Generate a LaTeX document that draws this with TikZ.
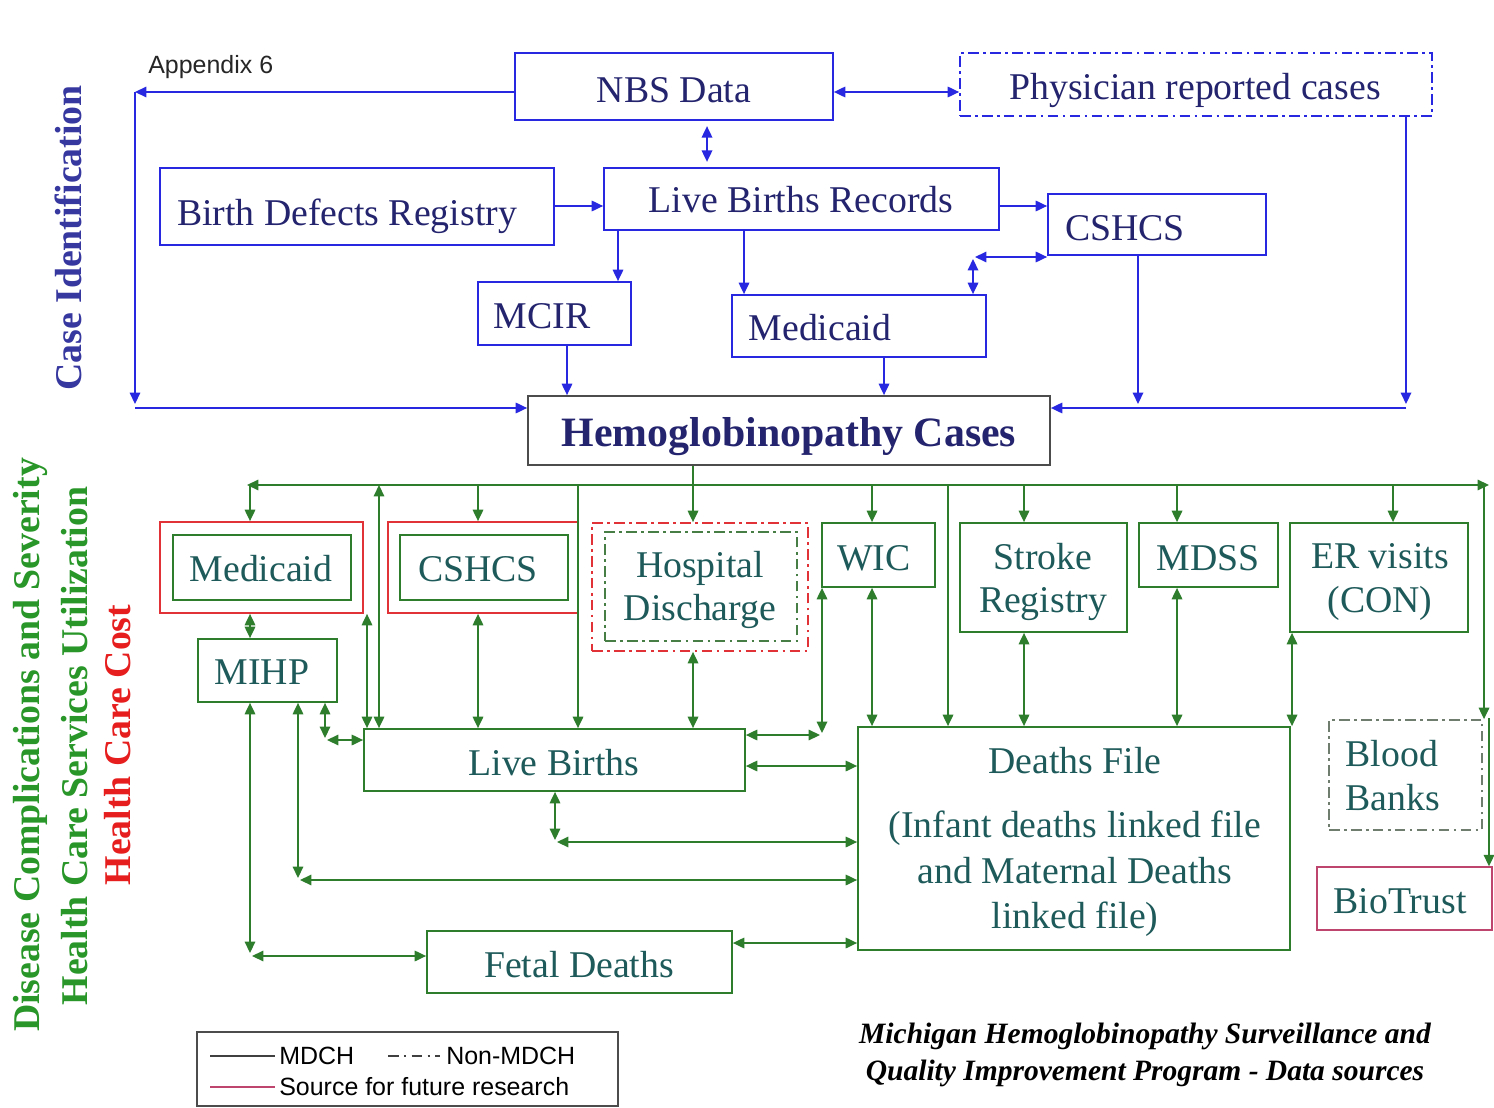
\documentclass[tikz,border=0pt]{standalone}
\usepackage{fontspec}
\setmainfont{Liberation Serif}
\newfontfamily\arialf{Liberation Sans}
\usetikzlibrary{arrows.meta,fit,calc}
\definecolor{bl}{RGB}{40,40,225}
\definecolor{bltext}{RGB}{35,35,110}
\definecolor{gr}{RGB}{45,125,45}
\definecolor{grtext}{RGB}{30,90,90}
\definecolor{rd}{RGB}{225,50,55}
\definecolor{pk}{RGB}{190,70,110}
\definecolor{sideb}{RGB}{55,55,160}
\definecolor{sideg}{RGB}{40,150,40}
\definecolor{sider}{RGB}{230,30,30}
\definecolor{bbgray}{RGB}{110,125,110}
\begin{document}
\begin{tikzpicture}[x=0.02cm,y=-0.02cm,
  box/.style={draw, inner sep=0pt, line width=1pt},
  bbox/.style={box, draw=bl},
  gbox/.style={box, draw=gr},
  rbox/.style={box, draw=rd},
  dd/.style={dash pattern=on 6pt off 2.5pt on 1.5pt off 2.5pt},
  txt/.style={font=\fontsize{21.5}{25}\selectfont, inner sep=0pt, align=center},
  btxt/.style={txt, text=bltext, anchor=base},
  gtxt/.style={txt, text=grtext, anchor=base},
  gtxtc/.style={txt, text=grtext},
  arr/.style={-{Triangle[length=6.5pt,width=6pt]}},
  darr/.style={{Triangle[length=6.5pt,width=6pt]}-{Triangle[length=6.5pt,width=6pt]}},
  bline/.style={draw=bl, line width=0.9pt},
  gline/.style={draw=gr, line width=0.9pt},
  side/.style={rotate=90, font=\fontsize{21.5}{25}\selectfont\bfseries, inner sep=0pt},
  legt/.style={font=\arialf\fontsize{14.2}{16}\selectfont, inner sep=0pt, anchor=base west},
]
\useasboundingbox[fill=white] (0,0) rectangle (1494,1108);

% ---------------- top (blue) ----------------
\node[font=\arialf\fontsize{14.2}{16}\selectfont, inner sep=0pt, anchor=base west, text=black!85] (app) at (148,74) {Appendix 6};

\node[bbox, fit={(515,53) (833,120)}] (nbs) {};
\node[btxt] (nbst) at (674,103) {NBS Data};
\node[bbox, dd, fit={(960,53) (1432,116)}] (phys) {};
\node[btxt] (physt) at (1195,100) {Physician reported cases};
\node[bbox, fit={(160,168) (554,245)}] (bdr) {};
\node[btxt] (bdrt) at (347,226) {Birth Defects Registry};
\node[bbox, fit={(604,168) (999,230)}] (lbr) {};
\node[btxt] (lbrt) at (801,213) {Live Births Records};
\node[bbox, fit={(1048,194) (1266,255)}] (cshb) {};
\node[btxt] (cshbt) at (1125,240) {CSHCS};
\node[bbox, fit={(478,282) (631,345)}] (mcir) {};
\node[btxt] (mcirt) at (542,328) {MCIR};
\node[bbox, fit={(732,295) (986,357)}] (medb) {};
\node[btxt] (medbt) at (820,340) {Medicaid};
\node[box, draw=black!70, fit={(528,396) (1050,465)}] (hemo) {};
\node[txt, anchor=base, text=bltext, font=\fontsize{23.8}{28}\selectfont\bfseries] (hemot) at (789,446) {Hemoglobinopathy Cases};

\coordinate (tl) at (135,92);
\coordinate (tld) at (135,404);
\coordinate (bll) at (135,408);
\draw[bline, arr] (nbs.west |- tl) -- (tl);
\draw[bline, arr] (tl) -- (tld);
\draw[bline, arr] (bll) -- (hemo.west |- bll);
\draw[bline, darr] (nbs.east |- tl) -- (phys.west |- tl);
\draw[bline, darr, shorten <=3pt, shorten >=3pt] (707,0 |- nbs.south) -- (707,0 |- lbr.north);
\draw[bline, arr] (bdr.east |- 0,206) -- (lbr.west |- 0,206);
\draw[bline, arr] (lbr.east |- 0,206) -- (cshb.west |- 0,206);
\draw[bline, arr] (618,0 |- lbr.south) -- (618,0 |- mcir.north);
\draw[bline, arr] (744,0 |- lbr.south) -- (744,0 |- medb.north);
\coordinate (mc) at (973,259);
\draw[bline, darr] (mc |- medb.north) -- (mc);
\draw[bline, darr] (975,257) -- (cshb.west |- 0,257);
\draw[bline, arr] (567,0 |- mcir.south) -- (567,0 |- hemo.north);
\draw[bline, arr] (884,0 |- medb.south) -- (884,0 |- hemo.north);
\coordinate (crd) at (1138,404);
\draw[bline, arr] (crd |- cshb.south) -- (crd);
\coordinate (prd) at (1406,404);
\coordinate (prl) at (1406,408);
\draw[bline, arr] (prd |- phys.south) -- (prd);
\draw[bline, arr] (prl) -- (hemo.east |- prl);

% ---------------- bottom (green) ----------------
\node[rbox, fit={(160,522) (363,613)}] (medr) {};
\node[gbox, fit={(173,535) (351,600)}] (medg) {};
\node[gtxt] (medgt) at (261,581) {Medicaid};
\node[rbox, fit={(388,522) (578,613)}] (cshr) {};
\node[gbox, fit={(400,535) (568,600)}] (cshg) {};
\node[gtxt] (cshgt) at (478,581) {CSHCS};
\node[rbox, dd, fit={(592,523) (808,651)}] (hospr) {};
\node[gbox, dd, draw=gr!70!gray, fit={(605,532) (797,641)}] (hospg) {};
\node[gtxtc] (hospt) at (700,590) {Hospital\\Discharge};
\node[gbox, fit={(822,523) (935,587)}] (wic) {};
\node[gtxt] (wict) at (874,570) {WIC};
\node[gbox, fit={(960,523) (1127,632)}] (stroke) {};
\node[gtxtc] (stroket) at (1043,582) {Stroke\\Registry};
\node[gbox, fit={(1139,523) (1278,587)}] (mdss) {};
\node[gtxt] (mdsst) at (1208,570) {MDSS};
\node[gbox, fit={(1290,523) (1468,632)}] (er) {};
\node[gtxtc] (ert) at (1380,582) {ER visits\\(CON)};
\node[gbox, fit={(198,639) (337,702)}] (mihp) {};
\node[gtxt] (mihpt) at (262,684) {MIHP};
\node[gbox, fit={(364,729) (745,791)}] (lb) {};
\node[gtxt] (lbt) at (554,775) {Live Births};
\node[gbox, fit={(858,727) (1290,950)}] (deaths) {};
\node[gtxt] (deathst) at (1075,773) {Deaths File};
\node[txt, text=grtext, font=\fontsize{21.5}{26}\selectfont] (deathst2) at (1075,874) {(Infant deaths linked file\\and Maternal Deaths\\linked file)};
\node[gbox, fit={(427,931) (732,993)}] (fetal) {};
\node[gtxt] (fetalt) at (579,977) {Fetal Deaths};
\node[box, dd, draw=bbgray, fit={(1329,720) (1482,830)}] (blood) {};
\node[gtxtc, align=left] (bloodt) at (1393,776) {Blood\\Banks};
\node[box, draw=pk, line width=0.8pt, fit={(1317,867) (1492,930)}] (bio) {};
\node[gtxt] (biot) at (1400,913) {BioTrust};

% bus
\coordinate (busL) at (247,485);
\coordinate (busR) at (1489,485);
\draw[gline, arr] (693,0 |- hemo.south) -- (693,0 |- hospr.north);
\draw[gline, darr] (busR) -- (busL);
\draw[gline, arr] (250,0 |- busL) -- (250,0 |- medr.north);
\draw[gline, darr] (379,0 |- busL) -- (379,0 |- lb.north);
\draw[gline, darr] (367,0 |- medr.south) -- (367,0 |- lb.north);
\draw[gline, arr] (478,0 |- busL) -- (478,0 |- cshr.north);
\draw[gline, darr] (478,0 |- cshr.south) -- (478,0 |- lb.north);
\draw[gline, arr] (578,0 |- busL) -- (578,0 |- lb.north);
\draw[gline, darr] (693,0 |- hospr.south) -- (693,0 |- lb.north);
\coordinate (wc) at (822,733);
\draw[gline, darr] (wc |- wic.south) -- (wc);
\draw[gline, darr] (lb.east |- 0,735) -- (820,735);
\draw[gline, arr] (872,0 |- busL) -- (872,0 |- wic.north);
\draw[gline, darr] (872,0 |- wic.south) -- (872,0 |- deaths.north);
\draw[gline, arr] (948,0 |- busL) -- (948,0 |- deaths.north);
\draw[gline, arr] (1024,0 |- busL) -- (1024,0 |- stroke.north);
\draw[gline, darr] (1024,0 |- stroke.south) -- (1024,0 |- deaths.north);
\draw[gline, arr] (1177,0 |- busL) -- (1177,0 |- mdss.north);
\draw[gline, darr] (1177,0 |- mdss.south) -- (1177,0 |- deaths.north);
\draw[gline, arr] (1393,0 |- busL) -- (1393,0 |- er.north);
\draw[gline, darr] (1292,0 |- er.south) -- (1292,0 |- deaths.north);
\draw[gline, arr] (1484,0 |- busR) -- (1484,0 |- blood.north);
\draw[gline, arr] (1489,718) -- (1489,0 |- bio.north);

\draw[gline, darr] (250,0 |- medr.south) -- (250,0 |- mihp.north);
\coordinate (c1) at (250,953);
\draw[gline, darr] (c1 |- mihp.south) -- (c1);
\draw[gline, darr] (252,956) -- (fetal.west |- 0,956);
\coordinate (c2) at (298,878);
\draw[gline, darr] (c2 |- mihp.south) -- (c2);
\draw[gline, darr] (300,880) -- (deaths.west |- 0,880);
\coordinate (c3) at (325,738);
\draw[gline, darr] (c3 |- mihp.south) -- (c3);
\draw[gline, darr] (327,740) -- (lb.west |- 0,740);
\coordinate (c4) at (555,840);
\draw[gline, darr] (c4 |- lb.south) -- (c4);
\draw[gline, darr] (557,842) -- (deaths.west |- 0,842);
\draw[gline, darr] (lb.east |- 0,766) -- (deaths.west |- 0,766);
\draw[gline, darr] (fetal.east |- 0,943) -- (deaths.west |- 0,943);

% side labels
\node[side, text=sideb] (s1) at (68,238) {Case Identification};
\node[side, text=sideg] (s2) at (30,745) {Disease Complications and Severity};
\node[side, text=sideg] (s3) at (75,746) {Health Care Services Utilization};
\node[side, text=sider] (s4) at (118,745) {Health Care Cost};

% legend
\node[draw=black!70, line width=0.8pt, inner sep=0pt, fit={(197,1032) (618,1106)}] (leg) {};
\draw[black!75, line width=1pt] (210,1056) -- (275,1056);
\node[legt] (l1) at (279,1064) {MDCH};
\draw[black!75, line width=1pt, dash pattern=on 6pt off 3pt on 1.5pt off 3pt] (388,1056) -- (440,1056);
\node[legt] (l2) at (446,1064) {Non-MDCH};
\draw[pk, line width=1pt] (210,1087) -- (275,1087);
\node[legt] (l3) at (279,1095) {Source for future research};

% title
\node[inner sep=0pt, align=center, font=\fontsize{16.8}{21}\selectfont\bfseries\itshape] (title) at (1145,1055) {Michigan Hemoglobinopathy Surveillance and\\Quality Improvement Program - Data sources};
\end{tikzpicture}
\end{document}
